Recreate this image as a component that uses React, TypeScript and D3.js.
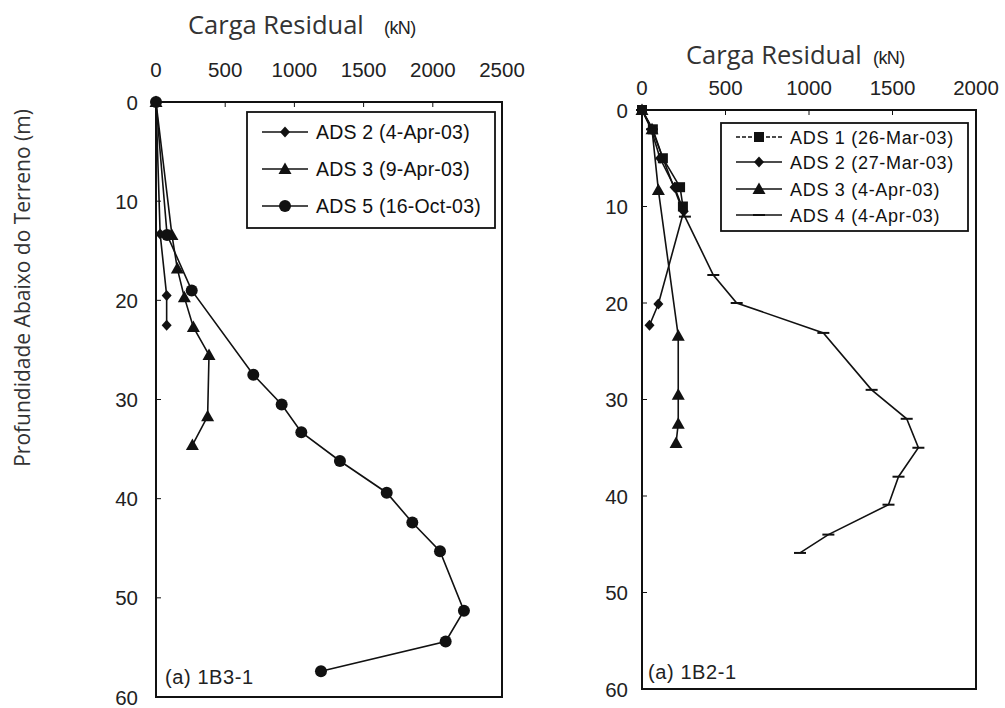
import React from "react";
import * as d3 from "d3";

// ---------- DATA ----------
// Panel (a) 1B3-1
const leftTicksX = [0, 500, 1000, 1500, 2000, 2500];
const depthTicks = [0, 10, 20, 30, 40, 50, 60];

const leftAds2Depth = [0, 13.3, 19.5, 22.5];
const leftAds2Load = [0, 30, 77, 77];
const leftAds3Depth = [0, 13.4, 16.8, 19.7, 22.7, 25.5, 31.7, 34.6];
const leftAds3Load = [0, 115, 154, 205, 270, 383, 373, 263];
const leftAds5Depth = [0, 13.4, 19.0, 27.5, 30.5, 33.3, 36.2, 39.4, 42.4, 45.3, 51.3, 54.4, 57.4];
const leftAds5Load = [0, 80, 258, 703, 908, 1050, 1329, 1667, 1852, 2052, 2225, 2093, 1192];
const leftLegend = ["ADS 2 (4-Apr-03)", "ADS 3 (9-Apr-03)", "ADS 5 (16-Oct-03)"];

// Panel (a) 1B2-1
const rightTicksX = [0, 500, 1000, 1500, 2000];
const rightAds1Depth = [0, 2, 5, 8, 10];
const rightAds1Load = [0, 65, 125, 228, 245];
const rightAds2Depth = [0, 2, 5, 8, 10.5, 20.1, 22.3];
const rightAds2Load = [0, 55, 108, 195, 250, 98, 45];
const rightAds3Depth = [0, 2, 8.3, 23.4, 29.5, 32.5, 34.5];
const rightAds3Load = [0, 60, 98, 217, 217, 217, 204];
const rightAds4Depth = [0, 2, 11.05, 17.1, 20, 23.1, 29, 32, 35, 38, 40.9, 44, 45.9];
const rightAds4Load = [0, 60, 257, 427, 567, 1086, 1375, 1585, 1655, 1536, 1476, 1116, 946];
const rightLegend = ["ADS 1 (26-Mar-03)", "ADS 2 (27-Mar-03)", "ADS 3 (4-Apr-03)", "ADS 4 (4-Apr-03)"];

const xTitle = "Carga Residual";
const xUnit = "(kN)";
const yTitle = "Profundidade Abaixo do Terreno (m)";

type MarkerKind = "circle" | "diamond" | "triangle" | "square" | "dash";

function Marker({ kind, x, y }: { kind: MarkerKind; x: number; y: number }) {
  const c = "#111";
  if (kind === "circle") return <circle cx={x} cy={y} r={6} fill={c} />;
  if (kind === "diamond")
    return <polygon points={`${x},${y - 5.5} ${x + 5},${y} ${x},${y + 5.5} ${x - 5},${y}`} fill={c} />;
  if (kind === "triangle")
    return <polygon points={`${x},${y - 6.5} ${x + 6.5},${y + 5} ${x - 6.5},${y + 5}`} fill={c} />;
  if (kind === "square") return <rect x={x - 5} y={y - 5} width={10} height={10} fill={c} />;
  return <line x1={x - 6} x2={x + 6} y1={y} y2={y} stroke={c} strokeWidth={2} />;
}

type Series = { depth: number[]; load: number[]; marker: MarkerKind; dashed?: boolean };

const sans = "'Liberation Sans', Arial, sans-serif";

function Panel(props: {
  x0: number; x1: number; y0: number; y1: number;
  xMax: number; xTicks: number[];
  series: Series[]; legend: string[];
  legendBox: [number, number, number, number];
  legendRows: number[]; legendFont: number; legendSpacing: number;
  label: string; labelPos: [number, number];
  xTickY: number; yTickX: number;
  titleX: number; titleY: number; unitX: number;
}) {
  const xs = d3.scaleLinear().domain([0, props.xMax]).range([props.x0, props.x1]);
  const ys = d3.scaleLinear().domain([0, 60]).range([props.y0, props.y1]);
  const line = d3.line<[number, number]>().x((d) => xs(d[0])).y((d) => ys(d[1]));
  const [lx, ly, lw, lh] = props.legendBox;
  return (
    <g>
      {/* title */}
      <text x={props.titleX} y={props.titleY} fontFamily="'Open Sans', sans-serif" fontSize={25.5} fill="#333">
        {xTitle}
      </text>
      <text x={props.unitX} y={props.titleY} fontFamily={sans} fontSize={18} fill="#222" letterSpacing={-0.6}>
        {xUnit}
      </text>
      {/* x tick labels */}
      {props.xTicks.map((t) => (
        <text key={"xt" + t} x={xs(t)} y={props.xTickY} textAnchor="middle" fontFamily={sans} fontSize={20.5} fill="#222">
          {t}
        </text>
      ))}
      {/* y tick labels */}
      {depthTicks.map((t) => (
        <text key={"yt" + t} x={props.yTickX} y={ys(t) + 7.5} textAnchor="end" fontFamily={sans} fontSize={20.5} fill="#222">
          {t}
        </text>
      ))}
      {/* frame */}
      <rect x={props.x0} y={props.y0} width={props.x1 - props.x0} height={props.y1 - props.y0} fill="none" stroke="#111" strokeWidth={2} />
      {props.xTicks.slice(1, -1).map((t) => (
        <line key={"xtk" + t} x1={xs(t)} x2={xs(t)} y1={props.y0} y2={props.y0 + 5} stroke="#111" strokeWidth={1} />
      ))}
      {depthTicks.slice(1, -1).map((t) => (
        <line key={"ytk" + t} x1={props.x0} x2={props.x0 + 5} y1={ys(t)} y2={ys(t)} stroke="#111" strokeWidth={1} />
      ))}
      {/* series */}
      {props.series.map((s, i) => {
        const pts = s.depth.map((d, j) => [s.load[j], d] as [number, number]);
        return (
          <g key={"s" + i}>
            <path d={line(pts) || ""} fill="none" stroke="#111" strokeWidth={1.6} />
            {pts.map((p, j) => (
              <Marker key={j} kind={s.marker} x={xs(p[0])} y={ys(p[1])} />
            ))}
          </g>
        );
      })}
      {/* legend */}
      <rect x={lx} y={ly} width={lw} height={lh} fill="#fff" stroke="#111" strokeWidth={1.8} />
      {props.legend.map((name, i) => {
        const yy = props.legendRows[i];
        const s = props.series[i];
        return (
          <g key={"lg" + i}>
            <line x1={lx + 15} x2={lx + 61} y1={yy} y2={yy} stroke="#111" strokeWidth={1.6} strokeDasharray={s.dashed ? "4,2" : undefined} />
            <Marker kind={s.marker} x={lx + 38} y={yy} />
            <text x={lx + 69} y={yy + 6.5} fontFamily={sans} fontSize={props.legendFont} letterSpacing={props.legendSpacing} fill="#111">
              {name}
            </text>
          </g>
        );
      })}
      <text x={props.labelPos[0]} y={props.labelPos[1]} fontFamily={sans} fontSize={20} letterSpacing={0.6} fill="#222">
        {props.label}
      </text>
    </g>
  );
}

export default function App() {
  const leftSeries: Series[] = [
    { depth: leftAds2Depth, load: leftAds2Load, marker: "diamond" },
    { depth: leftAds3Depth, load: leftAds3Load, marker: "triangle" },
    { depth: leftAds5Depth, load: leftAds5Load, marker: "circle" },
  ];
  const rightSeries: Series[] = [
    { depth: rightAds1Depth, load: rightAds1Load, marker: "square", dashed: true },
    { depth: rightAds2Depth, load: rightAds2Load, marker: "diamond" },
    { depth: rightAds3Depth, load: rightAds3Load, marker: "triangle" },
    { depth: rightAds4Depth, load: rightAds4Load, marker: "dash" },
  ];
  return (
    <svg width={1005} height={708} style={{ position: "absolute", left: 0, top: 0, background: "#fff" }}>
      <rect x={0} y={0} width={1005} height={708} fill="#fff" />
      <Panel
        x0={156} x1={502} y0={102} y1={697}
        xMax={2500} xTicks={leftTicksX}
        series={leftSeries} legend={leftLegend}
        legendBox={[247, 112, 248, 116]} legendRows={[132, 169, 206]} legendFont={19.5} legendSpacing={0.2}
        label="(a) 1B3-1" labelPos={[165, 684]}
        xTickY={77} yTickX={138}
        titleX={188} titleY={34} unitX={384}
      />
      <Panel
        x0={642} x1={976} y0={110} y1={689}
        xMax={2000} xTicks={rightTicksX}
        series={rightSeries} legend={rightLegend}
        legendBox={[721, 123, 247, 108]} legendRows={[137, 162, 189, 215]} legendFont={18} legendSpacing={0.7}
        label="(a) 1B2-1" labelPos={[648, 679]}
        xTickY={95} yTickX={628}
        titleX={686} titleY={64} unitX={873}
      />
      <text
        transform={`translate(30, 288) rotate(-90)`}
        textAnchor="middle"
        fontFamily="'Open Sans', sans-serif"
        fontSize={21}
        fill="#333"
      >
        {yTitle}
      </text>
    </svg>
  );
}
